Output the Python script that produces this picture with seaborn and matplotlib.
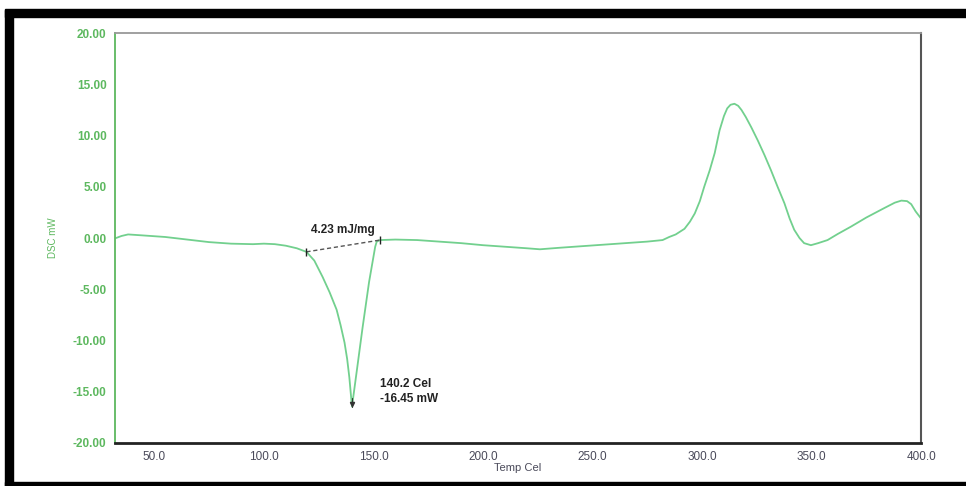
import matplotlib
matplotlib.use('Agg')
import matplotlib.pyplot as plt
from matplotlib.patches import Rectangle
import seaborn as sns
import pandas as pd

# DSC trace
temp = [32.5, 35, 38, 45, 55, 65, 75, 85, 95, 100, 105, 110, 115, 119.4,
        123, 126.8, 130, 133.2, 135, 136.8, 138, 139, 140.2, 142.5, 145, 148,
        150.8, 151.5, 153, 160, 170, 180, 190, 200, 210, 220, 226, 235, 245,
        255, 265, 275, 282, 285, 288, 292, 294.5, 296.7, 299, 301, 303.5,
        305.8, 308, 310, 311.5, 313, 314.8, 316.5, 318, 320, 322.5, 325.5,
        328.5, 331.5, 334.5, 337.6, 340, 342.1, 344.5, 346.6, 349.7, 353,
        357.3, 362, 367.9, 375, 383, 388, 391, 393.6, 395.5, 397.5, 400]
dsc = [0.0, 0.2, 0.35, 0.25, 0.1, -0.15, -0.4, -0.55, -0.6, -0.55, -0.6,
       -0.75, -1.0, -1.35, -2.2, -3.8, -5.3, -7.0, -8.5, -10.2, -11.8, -13.6,
       -16.45, -12.8, -8.8, -4.3, -0.85, -0.35, -0.2, -0.15, -0.2, -0.35,
       -0.5, -0.7, -0.85, -1.0, -1.1, -0.95, -0.8, -0.65, -0.5, -0.35, -0.2,
       0.1, 0.35, 0.9, 1.6, 2.4, 3.6, 5.0, 6.6, 8.3, 10.5, 11.9, 12.65, 13.0,
       13.1, 12.9, 12.5, 11.8, 10.8, 9.5, 8.1, 6.6, 5.0, 3.4, 1.9, 0.8, 0.0,
       -0.5, -0.7, -0.5, -0.2, 0.4, 1.1, 2.0, 2.9, 3.45, 3.65, 3.6, 3.3, 2.6,
       1.9]

# baseline of the integrated peak and the peak point
base_t = [119.4, 153.0]
base_y = [-1.35, -0.2]
peak_t = 140.2
peak_y = -16.45

xticks = [50, 100, 150, 200, 250, 300, 350, 400]
yticks = [-20, -15, -10, -5, 0, 5, 10, 15, 20]

df = pd.DataFrame({'Temp': temp, 'DSC': dsc})

sns.set_style('white')
plt.rcParams['font.family'] = ['Liberation Sans', 'DejaVu Sans']

fig = plt.figure(figsize=(9.66, 4.86), dpi=100)
ax = fig.add_axes([0.119, 0.0885, 0.8345, 0.8435])

green = '#5db85f'
sns.lineplot(data=df, x='Temp', y='DSC', sort=False, estimator=None,
             color='#72d08e', linewidth=1.3, ax=ax)

ax.plot(base_t, base_y, linestyle=(0, (3, 2)), color='#555555', linewidth=1)
ax.plot(base_t, base_y, linestyle='none', marker='|', markersize=6,
        color='#222222', markeredgewidth=1)
ax.plot([peak_t], [peak_y + 0.3], marker='v', markersize=3, color='#333333')
ax.plot([peak_t, peak_t], [peak_y, peak_y + 0.8], color='#333333', linewidth=0.8)

ax.text(136, 0.15, '4.23 mJ/mg', fontsize=8.5, fontweight='bold',
        color='#222222', ha='center', va='bottom')
ax.text(153, -15.0, '140.2 Cel\n-16.45 mW', fontsize=8.5, fontweight='bold',
        color='#222222', ha='left', va='center', linespacing=1.3)

ax.set_xlim(32, 400)
ax.set_ylim(-20, 20)
ax.set_xticks(xticks)
ax.set_xticklabels([f'{t:.1f}' for t in xticks])
ax.set_yticks(yticks)
ax.set_yticklabels([f'{t:.2f}' for t in yticks])

ax.tick_params(axis='y', direction='in', length=10, width=1.2, colors=green,
               labelsize=8.5, pad=6)
ax.tick_params(axis='x', direction='in', length=5, width=1.2, color='#222222',
               labelcolor='#4a4a5a', labelsize=8.5, pad=6)
for lab in ax.get_yticklabels():
    lab.set_fontweight('bold')

ax.spines['left'].set_color(green)
ax.spines['left'].set_linewidth(1.3)
ax.spines['top'].set_color('#999999')
ax.spines['top'].set_linewidth(1.3)
ax.spines['right'].set_color('#555555')
ax.spines['right'].set_linewidth(1.5)
ax.spines['bottom'].set_color('#222222')
ax.spines['bottom'].set_linewidth(2)

ax.set_xlabel('Temp Cel', fontsize=8, color='#4a4a5a', labelpad=0)
ax.set_ylabel('DSC mW', fontsize=7, color=green, labelpad=11)

# black frame around the picture
fig.patches.append(Rectangle((0.005, 0.965), 0.995, 0.0165, transform=fig.transFigure,
                             color='black', zorder=0))
fig.patches.append(Rectangle((0.005, 0.0), 0.0085, 0.98, transform=fig.transFigure,
                             color='black', zorder=0))
fig.patches.append(Rectangle((0.005, 0.0), 0.995, 0.009, transform=fig.transFigure,
                             color='black', zorder=0))

fig.savefig('out.png', dpi=100)
